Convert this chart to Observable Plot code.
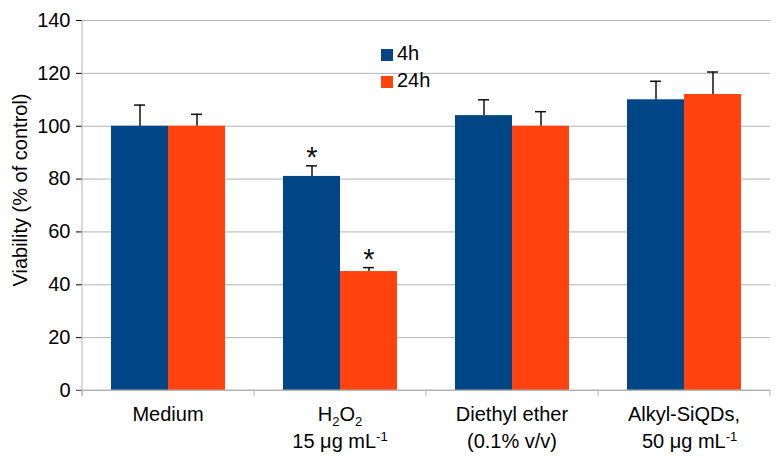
<!DOCTYPE html>
<html>
<head>
<meta charset="utf-8">
<script src="https://cdn.jsdelivr.net/npm/d3@7"></script>
<script src="https://cdn.jsdelivr.net/npm/@observablehq/plot@0.6"></script>
<style>
  body { margin: 0; background: #fff; }
  #chart { position: relative; width: 783px; height: 463px; font-family: "Liberation Sans", Arial, sans-serif; }
  .legend { position: absolute; left: 381px; top: 40px; font-size: 20px; color: #000; line-height: 27px; }
  .legend div { display: flex; align-items: center; height: 27px; }
  .legend span.sw { display: inline-block; width: 12px; height: 12px; margin-right: 4px; margin-top: 2px; }
</style>
</head>
<body>
<div id="chart"></div>
<script>
const categories = ["Medium", "H2O2 15 ug/mL", "Diethyl ether (0.1% v/v)", "Alkyl-SiQDs 50 ug/mL"];
const seriesNames = ["4h", "24h"];
const values4h = [100, 81, 104, 110];
const values24h = [100, 45, 100, 112];
const errUp4h = [8, 4, 6, 7];
const errUp24h = [4.5, 1.5, 5.5, 8.5];
const star4h = [false, true, false, false];
const star24h = [false, true, false, false];
const yTicks = [0, 20, 40, 60, 80, 100, 120, 140];
const seriesColors = ["#004586", "#ff420e"];
const yLabel = "Viability (% of control)";
// x labels: lines of [text, kind] segments ("" normal, "sub", "sup")
const xLabelLines = [
  [[["Medium", ""]]],
  [[["H", ""], ["2", "sub"], ["O", ""], ["2", "sub"]], [["15 \u03bcg mL", ""], ["-1", "sup"]]],
  [[["Diethyl ether", ""]], [["(0.1% v/v)", ""]]],
  [[["Alkyl-SiQDs,", ""]], [["\u00a0\u00a050 \u03bcg mL", ""], ["-1", "sup"]]]
];

const rows = categories.flatMap((c, i) => [
  {category: c, series: "4h", value: values4h[i], upper: values4h[i] + errUp4h[i], star: star4h[i]},
  {category: c, series: "24h", value: values24h[i], upper: values24h[i] + errUp24h[i], star: star24h[i]}
]);

const plot = Plot.plot({
  width: 783,
  height: 463,
  marginLeft: 82,
  marginRight: 13,
  marginTop: 20,
  marginBottom: 73,
  style: {fontFamily: "'Liberation Sans', Arial, sans-serif", fontSize: "20px", background: "white", overflow: "visible", color: "#000"},
  fx: {domain: categories, padding: 0, axis: null, label: null},
  x: {domain: seriesNames, paddingInner: 0, paddingOuter: 0.5, axis: null},
  y: {domain: [0, 140], ticks: yTicks, tickSize: 6, tickPadding: 6, label: null},
  color: {domain: seriesNames, range: seriesColors},
  marks: [
    Plot.ruleY(yTicks, {stroke: "#b3b3b3", strokeWidth: 1}),
    Plot.barY(rows, {fx: "category", x: "series", y: "value", fill: "series"}),
    Plot.ruleX(rows, {fx: "category", x: "series", y1: "value", y2: "upper", stroke: "#111", strokeWidth: 1.5}),
    Plot.tickY(rows, {fx: "category", x: "series", y: "upper", stroke: "#111", strokeWidth: 1.5, insetLeft: 23, insetRight: 23}),
    Plot.text(rows.filter(d => d.star), {fx: "category", x: "series", y: "upper", text: () => "*", fontSize: 29, lineAnchor: "bottom", dy: 1, fill: "#111"})
  ]
});

const svg = d3.select(plot);
svg.selectAll('g[aria-label="y-axis tick"]').attr("stroke", "#b3b3b3");

const ys = plot.scale("y");
const fxs = plot.scale("fx");
const y0 = ys.apply(0), yTop = ys.apply(140);
const xLeft = fxs.apply(categories[0]);
const xRight = fxs.apply(categories[categories.length - 1]) + fxs.bandwidth;
const ax = svg.append("g").attr("stroke", "#b3b3b3").attr("fill", "none");
ax.append("line").attr("x1", xLeft).attr("x2", xLeft).attr("y1", yTop).attr("y2", y0 + 6);
ax.append("line").attr("x1", xLeft - 6).attr("x2", xRight).attr("y1", y0).attr("y2", y0);
const bounds = categories.map(c => fxs.apply(c)).concat([xRight]);
bounds.forEach(b => ax.append("line").attr("x1", b).attr("x2", b).attr("y1", y0).attr("y2", y0 + 6));

// x labels
const lab = svg.append("g").attr("font-size", 20).attr("fill", "#000").attr("text-anchor", "middle");
categories.forEach((c, i) => {
  const cx = fxs.apply(c) + fxs.bandwidth / 2;
  xLabelLines[i].forEach((line, j) => {
    const t = lab.append("text").attr("x", cx).attr("y", y0 + 31 + j * 27);
    let shift = 0;
    line.forEach(([txt, kind]) => {
      const target = kind === "sub" ? 5 : kind === "sup" ? -7 : 0;
      const ts = t.append("tspan").attr("dy", target - shift).text(txt);
      if (kind) ts.attr("font-size", 13);
      shift = target;
    });
  });
});

// y label
svg.append("text")
  .attr("transform", `translate(20, ${(y0 + yTop) / 2 - 15}) rotate(-90)`)
  .attr("text-anchor", "middle")
  .attr("dominant-baseline", "central")
  .attr("font-size", 20)
  .attr("fill", "#000")
  .text(yLabel);

const container = document.getElementById("chart");
container.appendChild(plot);

const legend = document.createElement("div");
legend.className = "legend";
seriesNames.forEach((s, i) => {
  const row = document.createElement("div");
  const sw = document.createElement("span");
  sw.className = "sw";
  sw.style.background = seriesColors[i];
  row.appendChild(sw);
  row.appendChild(document.createTextNode(s));
  legend.appendChild(row);
});
container.appendChild(legend);
</script>
</body>
</html>
